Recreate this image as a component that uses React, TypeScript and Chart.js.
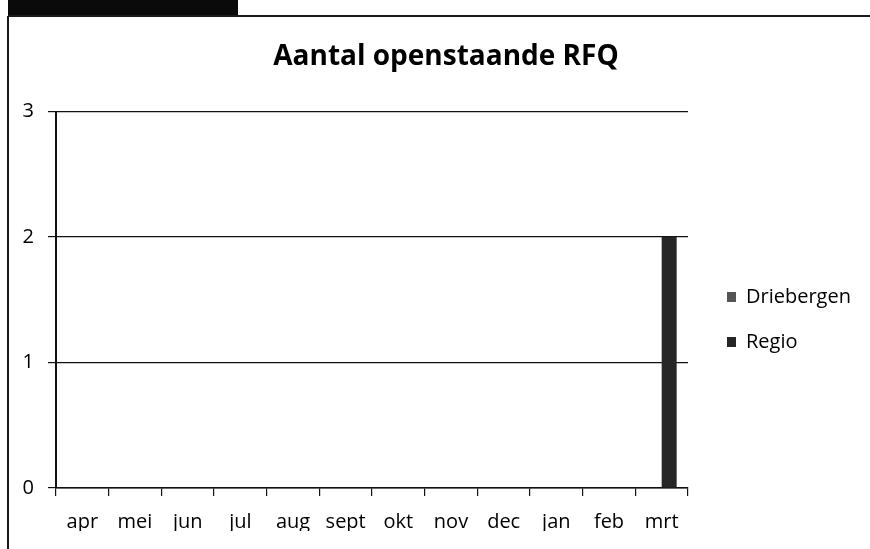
import React, { useEffect, useRef } from 'react';
import { Chart, registerables } from 'chart.js';

Chart.register(...registerables);

// ---- data ----
const categories = ['apr', 'mei', 'jun', 'jul', 'aug', 'sept', 'okt', 'nov', 'dec', 'jan', 'feb', 'mrt'];
const driebergen = [0, 0, 0, 0, 0, 0, 0, 0, 0, 0, 0, 0];
const regio = [0, 0, 0, 0, 0, 0, 0, 0, 0, 0, 0, 2];
const seriesNames = ['Driebergen', 'Regio'];
const titleText = 'Aantal openstaande RFQ';
const yMin = 0;
const yMax = 3;
const yStep = 1;

const W = 870;
const H = 549;
const FONT = "'Open Sans', 'DejaVu Sans', sans-serif";
const LEGEND_W = 168;

const legendWidthPlugin = {
  id: 'legendWidth',
  beforeLayout(chart: any) {
    const lg = chart.legend;
    if (lg && !lg.__patched) {
      const orig = lg.fit.bind(lg);
      lg.fit = function () {
        orig();
        this.width = LEGEND_W;
      };
      lg.__patched = true;
    }
  },
};

export default function App() {
  const ref = useRef<HTMLCanvasElement | null>(null);

  useEffect(() => {
    if (!ref.current) return;
    const chart = new Chart(ref.current, {
      type: 'bar',
      data: {
        labels: categories,
        datasets: [
          {
            label: seriesNames[0],
            data: driebergen,
            backgroundColor: '#555555',
            borderWidth: 0,
            categoryPercentage: 0.57,
            barPercentage: 1,
          },
          {
            label: seriesNames[1],
            data: regio,
            backgroundColor: '#262626',
            borderWidth: 0,
            categoryPercentage: 0.57,
            barPercentage: 1,
          },
        ],
      },
      options: {
        responsive: false,
        animation: false,
        devicePixelRatio: 1,
        layout: { padding: { left: 22, right: 0, top: 0, bottom: 18 } },
        plugins: {
          title: {
            display: true,
            text: titleText,
            color: '#000',
            font: { family: FONT, size: 28, weight: 'bold' },
            padding: { top: 40, bottom: 38 },
          },
          legend: {
            display: true,
            position: 'right',
            align: 'start',
            title: {
              display: true,
              text: ' ',
              font: { family: FONT, size: 10, lineHeight: 1.2 },
              padding: { top: 250, bottom: 0 },
            },
            labels: {
              color: '#000',
              font: { family: FONT, size: 20 },
              boxWidth: 9,
              boxHeight: 10,
              padding: 25,
            },
          },
          tooltip: { enabled: false },
        },
        scales: {
          x: {
            grid: {
              display: true,
              drawOnChartArea: false,
              drawTicks: true,
              tickLength: 8,
              color: '#111',
              lineWidth: 1.2,
              offset: true,
            },
            border: { display: true, color: '#111', width: 1.5 },
            ticks: {
              color: '#000',
              font: { family: FONT, size: 20 },
              padding: 14,
              maxRotation: 0,
              autoSkip: false,
            },
            afterFit: (s: any) => {
              s.height = 43;
            },
          },
          y: {
            min: yMin,
            max: yMax,
            grid: {
              display: true,
              drawOnChartArea: true,
              drawTicks: true,
              tickLength: 8,
              color: '#111',
              lineWidth: 1.2,
            },
            border: { display: true, color: '#111', width: 2 },
            ticks: {
              stepSize: yStep,
              color: '#000',
              font: { family: FONT, size: 20 },
              padding: 14,
            },
            afterFit: (s: any) => {
              s.width = 34;
            },
          },
          gap: {
            type: 'linear',
            position: 'right',
            display: true,
            grid: { display: false, drawTicks: false },
            border: { display: false },
            ticks: { display: false },
            afterFit: (s: any) => {
              s.width = 14;
            },
          },
        },
      } as any,
      plugins: [legendWidthPlugin],
    });
    return () => chart.destroy();
  }, []);

  return (
    <div style={{ position: 'absolute', left: 0, top: 0, width: W, height: H, background: '#fff', overflow: 'hidden' }}>
      <canvas ref={ref} width={W} height={H} style={{ position: 'absolute', left: 0, top: 0, width: W, height: H }} />
      <div style={{ position: 'absolute', left: 8, top: 0, width: 230, height: 16, background: '#0a0a0a' }} />
      <div style={{ position: 'absolute', left: 8, top: 15, width: W - 8, height: 2, background: '#1a1a1a' }} />
      <div style={{ position: 'absolute', left: 7, top: 16, width: 2, height: H - 16, background: '#1a1a1a' }} />
    </div>
  );
}
